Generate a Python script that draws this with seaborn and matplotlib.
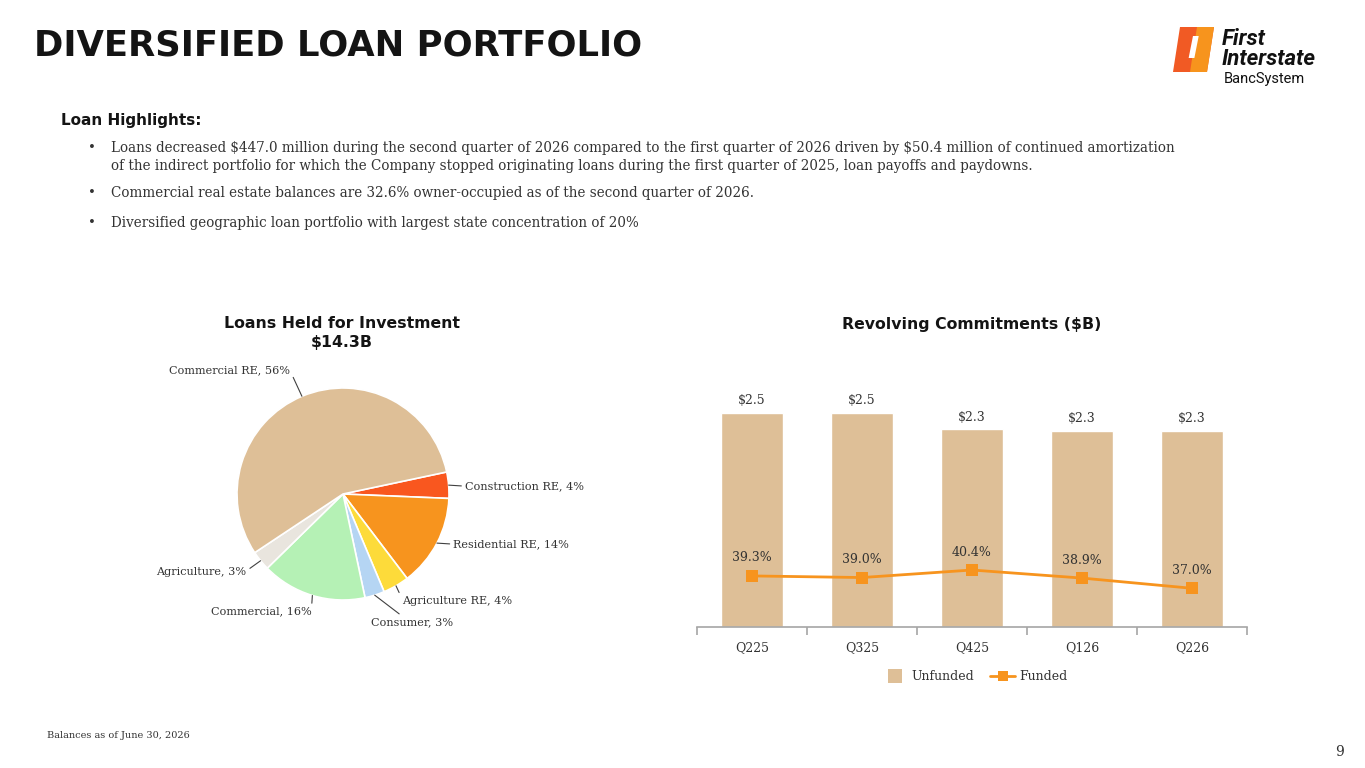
import numpy as np
import pandas as pd
import matplotlib
matplotlib.use("Agg")
import matplotlib.pyplot as plt
import seaborn as sns
from matplotlib.patches import Polygon
from matplotlib.lines import Line2D

# ---------------- data ----------------
pie_labels = ["Construction RE", "Residential RE", "Agriculture RE", "Consumer",
              "Commercial", "Agriculture", "Commercial RE"]
pie_values = [4, 14, 4, 3, 16, 3, 56]
pie_colors = ["#F9571F", "#F7941E", "#FDDB3A", "#B5D5F3", "#B5F1B5", "#E9E5DE", "#DEBF97"]

quarters = ["Q225", "Q325", "Q425", "Q126", "Q226"]
unfunded = [2.50, 2.50, 2.31, 2.29, 2.29]
funded_pct = [39.3, 39.0, 40.4, 38.9, 37.0]

bullet_lines = [
    "Loans decreased \\$447.0 million during the second quarter of 2026 compared to the first quarter of 2026 driven by \\$50.4 million of continued amortization",
    "of the indirect portfolio for which the Company stopped originating loans during the first quarter of 2025, loan payoffs and paydowns.",
    "Commercial real estate balances are 32.6% owner-occupied as of the second quarter of 2026.",
    "Diversified geographic loan portfolio with largest state concentration of 20%",
]

# ---------------- style ----------------
sns.set_theme(style="white")
plt.rcParams["font.family"] = ["DejaVu Sans"]

W, H = 1365, 768
fig = plt.figure(figsize=(W / 100, H / 100), dpi=100)
fig.patch.set_facecolor("white")

SERIF = ["DejaVu Serif"]
TXT = "#333333"


def fx(x):
    return x / W


def fy(y):
    return 1 - y / H


# ---------------- header ----------------
fig.text(fx(34), fy(46), "DIVERSIFIED LOAN PORTFOLIO", fontsize=25.5, fontweight="bold",
         color="#141414", va="center", ha="left")
fig.text(fx(61), fy(121), "Loan Highlights:", fontsize=11, fontweight="bold",
         color="#141414", va="center", ha="left")

line_y = [148, 166, 193, 223]
bullet_flags = [True, False, True, True]
for ly, t, b in zip(line_y, bullet_lines, bullet_flags):
    if b:
        fig.text(fx(88), fy(ly), "\u2022", fontsize=9.75, family=SERIF, color=TXT, va="center")
    fig.text(fx(111), fy(ly), t, fontsize=9.75, family=SERIF, color=TXT, va="center", ha="left")

# logo
logo_ax = fig.add_axes([0, 0, 1, 1], zorder=-1)
logo_ax.set_xlim(0, W)
logo_ax.set_ylim(H, 0)
logo_ax.axis("off")
logo_ax.add_patch(Polygon([(1180, 27), (1214, 27), (1207, 72), (1173, 72)], closed=True,
                          facecolor="#F15A24", edgecolor="none"))
logo_ax.add_patch(Polygon([(1197, 27), (1214, 27), (1207, 72), (1190, 72)], closed=True,
                          facecolor="#F7941D", edgecolor="none"))
logo_ax.text(1193, 50, "I", fontsize=22, fontweight="bold", style="italic", color="white",
             ha="center", va="center")
logo_ax.text(1222, 49, "First\nInterstate", fontsize=16, fontweight="bold", style="italic",
             family=["Roboto", "DejaVu Sans"], color="#111111", ha="left", va="center",
             linespacing=0.92)
logo_ax.text(1224, 79, "BancSystem", fontsize=10.5, family=["Roboto", "DejaVu Sans"],
             color="#111111", ha="left", va="center")

# ---------------- pie ----------------
cx, cy, R = 343, 494, 106
side = 2.5 * R
pie_ax = fig.add_axes([fx(cx - side / 2), fy(cy + side / 2), side / W, side / H])
wedges, _ = pie_ax.pie(pie_values, colors=pie_colors, startangle=12, counterclock=False,
                       wedgeprops=dict(edgecolor="white", linewidth=1.2))
pie_ax.set_xlim(-1.25, 1.25)
pie_ax.set_ylim(-1.25, 1.25)
pie_ax.set_aspect("equal")

# label offsets in pixels (dx right, dy down), alignment, leader attachment point
label_layout = {
    "Construction RE": (16, 1, "left", (0, 0.5)),
    "Residential RE": (16, 1, "left", (0, 0.5)),
    "Agriculture RE": (6, 15, "left", (0, 0.7)),
    "Consumer": (37, 27, "center", (0.4, 1.0)),
    "Commercial": (-1, 16, "right", (1, 0.6)),
    "Agriculture": (-14, 11, "right", (1, 0.6)),
    "Commercial RE": (-12, -26, "right", (1, 0.5)),
}
for w, lab, val in zip(wedges, pie_labels, pie_values):
    ang = np.deg2rad((w.theta1 + w.theta2) / 2)
    x, y = np.cos(ang), np.sin(ang)
    dx, dy, ha, rel = label_layout[lab]
    pie_ax.annotate(f"{lab}, {val}%", xy=(x, y), xytext=(dx, -dy), textcoords="offset pixels",
                    ha=ha, va="center", fontsize=8.1, family=SERIF, color=TXT,
                    arrowprops=dict(arrowstyle="-", color="#404040", lw=0.8,
                                    shrinkA=0, shrinkB=0, relpos=rel))

fig.text(fx(342), fy(324), "Loans Held for Investment", fontsize=11.3, fontweight="bold",
         color="#141414", ha="center", va="center")
fig.text(fx(342), fy(343), "$14.3B", fontsize=11.3, fontweight="bold",
         color="#141414", ha="center", va="center")

# ---------------- bar + line ----------------
left, right, base, top = 697, 1247, 627, 370
bar_ax = fig.add_axes([fx(left), fy(base), (right - left) / W, (base - top) / H])
df = pd.DataFrame({"Quarter": quarters, "Unfunded": unfunded})
sns.barplot(data=df, x="Quarter", y="Unfunded", color="#DEBF97", saturation=1,
            width=0.56, ax=bar_ax)
bar_ax.set_ylim(0, 3.0)
bar_ax.set_xlim(-0.5, len(quarters) - 0.5)
bar_ax.bar_label(bar_ax.containers[0], labels=[f"${v:.1f}" for v in unfunded], padding=4,
                 fontsize=9, family=SERIF, color=TXT)
for s in ["left", "right", "top"]:
    bar_ax.spines[s].set_visible(False)
bar_ax.spines["bottom"].set_color("#A6A6A6")
bar_ax.spines["bottom"].set_linewidth(1.2)
bar_ax.set_yticks([])
bar_ax.set_xlabel("")
bar_ax.set_ylabel("")
bar_ax.set_xticks(range(len(quarters)))
bar_ax.set_xticklabels(quarters, family=SERIF, fontsize=9, color=TXT)
bar_ax.set_xticks(np.arange(-0.5, len(quarters), 1), minor=True)
bar_ax.tick_params(axis="x", which="major", length=0, pad=10)
bar_ax.tick_params(axis="x", which="minor", length=6, color="#A6A6A6", width=1.2, bottom=True)

line_ax = bar_ax.twinx()
pos = np.arange(len(quarters))
sns.lineplot(x=pos, y=funded_pct, ax=line_ax, color="#F7941E", lw=2, marker="s",
             markersize=8, markeredgewidth=0, legend=False)
line_ax.set_ylim(29.8, 77.6)
line_ax.set_yticks([])
for s in ["left", "right", "top", "bottom"]:
    line_ax.spines[s].set_visible(False)
for i, v in enumerate(funded_pct):
    line_ax.annotate(f"{v:.1f}%", (i, v), xytext=(0, 18), textcoords="offset pixels",
                     ha="center", va="center", fontsize=9, family=SERIF, color=TXT)

fig.text(fx(972), fy(325), "Revolving Commitments ($B)", fontsize=11.3, fontweight="bold",
         color="#141414", ha="center", va="center")

handles = [Line2D([0], [0], color="none", marker="s", markersize=10, markeredgewidth=0,
                  markerfacecolor="#DEBF97"),
           Line2D([0], [0], color="#F7941E", lw=2, marker="s", markersize=7, markeredgewidth=0)]
leg = fig.legend(handles, ["Unfunded", "Funded"], loc="center", bbox_to_anchor=(fx(975), fy(677)),
                 ncol=2, frameon=False, prop={"family": SERIF, "size": 9},
                 handlelength=2.0, columnspacing=1.3, handletextpad=0.3)
for t in leg.get_texts():
    t.set_color(TXT)

# ---------------- footer ----------------
fig.text(fx(47), fy(736), "Balances as of June 30, 2026", fontsize=7, family=SERIF,
         color=TXT, ha="left", va="center")
fig.text(fx(1340), fy(752), "9", fontsize=10, family=SERIF, color=TXT, ha="center", va="center")

fig.savefig("out.png", dpi=100, facecolor="white")
